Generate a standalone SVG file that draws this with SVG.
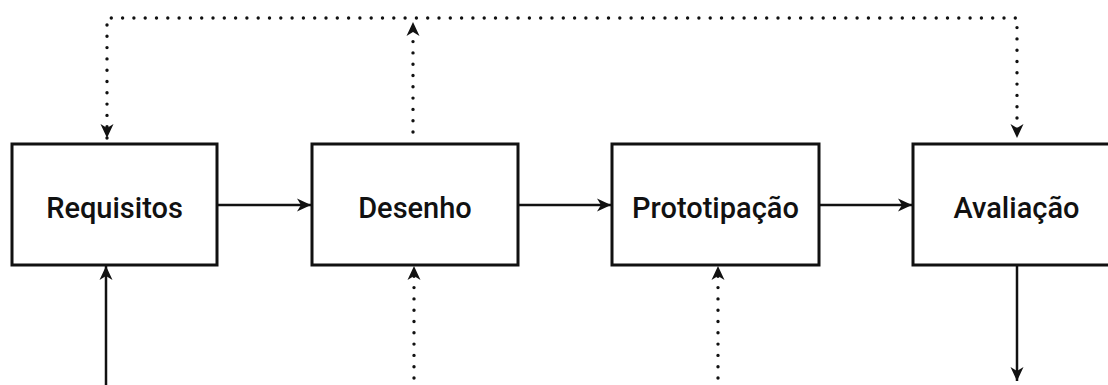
<svg xmlns="http://www.w3.org/2000/svg" width="1108" height="385" viewBox="0 0 1108 385">
  <style>
    .box { fill: #ffffff; stroke: #111111; stroke-width: 3; }
    .label { font-family: Roboto, "Liberation Sans", Arial, sans-serif; font-weight: 500; font-size: 29px; fill: #111111; text-anchor: middle; }
    .solid { fill: none; stroke: #111111; stroke-width: 2.5; }
    .dotted { fill: none; stroke: #111111; stroke-width: 3.4; stroke-dasharray: 0 11.3; stroke-linecap: round; }
  </style>
  <defs>
    <marker id="arrow" viewBox="0 0 16 16" refX="15" refY="8" markerWidth="16" markerHeight="16" markerUnits="userSpaceOnUse" orient="auto">
      <path d="M1,1.5 L15,8 L1,14.5 L5,8 Z" fill="#111111"/>
    </marker>
    <marker id="arrow-start" viewBox="0 0 16 16" refX="15" refY="8" markerWidth="16" markerHeight="16" markerUnits="userSpaceOnUse" orient="auto-start-reverse">
      <path d="M1,1.5 L15,8 L1,14.5 L5,8 Z" fill="#111111"/>
    </marker>
  </defs>

  <g id="connectors">
    <!-- main flow -->
    <line class="solid" x1="218" y1="205" x2="311" y2="205" marker-end="url(#arrow)"/>
    <line class="solid" x1="519" y1="205" x2="611" y2="205" marker-end="url(#arrow)"/>
    <line class="solid" x1="820" y1="205" x2="912" y2="205" marker-end="url(#arrow)"/>
    <!-- inputs from below -->
    <line class="solid" x1="106" y1="385" x2="106" y2="266" marker-end="url(#arrow)"/>
    <line class="dotted" x1="414" y1="378" x2="414" y2="266" marker-end="url(#arrow)"/>
    <line class="dotted" x1="718" y1="378" x2="718" y2="266" marker-end="url(#arrow)"/>
    <!-- output -->
    <line class="solid" x1="1017" y1="266" x2="1017" y2="381" marker-end="url(#arrow)"/>
    <!-- feedback loop over the top -->
    <line class="dotted" x1="413" y1="132" x2="413" y2="22" marker-end="url(#arrow)"/>
    <path class="dotted" d="M107,138 V18 H1017 V138" marker-start="url(#arrow-start)" marker-end="url(#arrow)"/>
  </g>

  <g id="requisitos">
    <rect class="box" x="12" y="144" width="205" height="121"/>
    <text class="label" x="114.5" y="218">Requisitos</text>
  </g>
  <g id="desenho">
    <rect class="box" x="312" y="144" width="206" height="121"/>
    <text class="label" x="415" y="218">Desenho</text>
  </g>
  <g id="prototipacao">
    <rect class="box" x="612" y="144" width="207" height="121"/>
    <text class="label" x="715.5" y="218">Prototipação</text>
  </g>
  <g id="avaliacao">
    <rect class="box" x="913" y="144" width="207" height="121"/>
    <text class="label" x="1016.5" y="218">Avaliação</text>
  </g>
</svg>
